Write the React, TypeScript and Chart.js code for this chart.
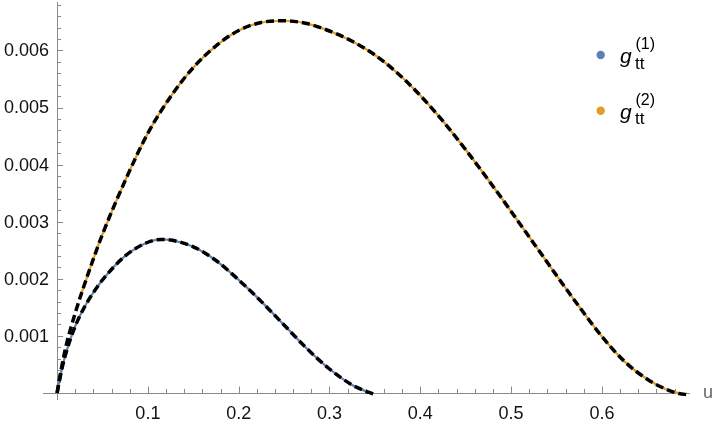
import React, { useEffect, useRef } from "react";
import { Chart, registerables } from "chart.js";

Chart.register(...registerables);

// ---- data (u, g) ----
const u1 = [0, 0.005, 0.01, 0.02, 0.03, 0.04, 0.05, 0.075, 0.1, 0.115, 0.125, 0.15, 0.175, 0.2, 0.225, 0.25, 0.275, 0.3, 0.325, 0.34, 0.345];
const g1 = [0, 0.0004, 0.00071, 0.00117, 0.0015, 0.00176, 0.00198, 0.0024, 0.00264, 0.00269, 0.00268, 0.00256, 0.00232, 0.00198, 0.0016, 0.00119, 0.00078, 0.00042, 0.00014, 0.00003, 0];

const u2 = [0.027, 0.04, 0.05, 0.075, 0.1, 0.125, 0.15, 0.175, 0.2, 0.225, 0.25, 0.275, 0.3, 0.325, 0.35, 0.375, 0.4, 0.425, 0.45, 0.475, 0.5, 0.525, 0.55, 0.575, 0.6, 0.625, 0.65, 0.67, 0.685];
const g2 = [0.00175, 0.00235, 0.00278, 0.00372, 0.00455, 0.00519, 0.0057, 0.00608, 0.00635, 0.00649, 0.00652, 0.00647, 0.00634, 0.00616, 0.00592, 0.0056, 0.00521, 0.00476, 0.00426, 0.00373, 0.00318, 0.00262, 0.00206, 0.00151, 0.00099, 0.00055, 0.00024, 0.00007, -0.00001];

const uFit1 = [0, 0.005, 0.01, 0.02, 0.03, 0.04, 0.05, 0.075, 0.1, 0.115, 0.125, 0.15, 0.175, 0.2, 0.225, 0.25, 0.275, 0.3, 0.325, 0.34, 0.347, 0.352];
const gFit1 = [0, 0.0004, 0.00071, 0.00117, 0.0015, 0.00176, 0.00198, 0.0024, 0.00264, 0.00269, 0.00268, 0.00256, 0.00232, 0.00198, 0.0016, 0.00119, 0.00078, 0.00042, 0.00014, 0.00003, -0.00001, -0.00004];

const uFit2 = [0, 0.005, 0.01, 0.02, 0.027, 0.04, 0.05, 0.075, 0.1, 0.125, 0.15, 0.175, 0.2, 0.225, 0.25, 0.275, 0.3, 0.325, 0.35, 0.375, 0.4, 0.425, 0.45, 0.475, 0.5, 0.525, 0.55, 0.575, 0.6, 0.625, 0.65, 0.67, 0.685, 0.695];
const gFit2 = [0, 0.00045, 0.00083, 0.0014, 0.00175, 0.00235, 0.00278, 0.00372, 0.00455, 0.00519, 0.0057, 0.00608, 0.00635, 0.00649, 0.00652, 0.00647, 0.00634, 0.00616, 0.00592, 0.0056, 0.00521, 0.00476, 0.00426, 0.00373, 0.00318, 0.00262, 0.00206, 0.00151, 0.00099, 0.00055, 0.00024, 0.00007, -0.00001, -0.00003];

const xTickValues = [0.1, 0.2, 0.3, 0.4, 0.5, 0.6];
const xTickLabels = ["0.1", "0.2", "0.3", "0.4", "0.5", "0.6"];
const yTickValues = [0.001, 0.002, 0.003, 0.004, 0.005, 0.006];
const yTickLabels = ["0.001", "0.002", "0.003", "0.004", "0.005", "0.006"];
const legendSupers = ["(1)", "(2)"];

const BLUE = "#5E81B5";
const ORANGE = "#E19C24";

const pts = (xs: number[], ys: number[]) => xs.map((x, i) => ({ x, y: ys[i] }));

const axesPlugin = {
  id: "mmaAxes",
  beforeDatasetsDraw(chart: any) {
    const { ctx } = chart;
    const xs = chart.scales.x;
    const ys = chart.scales.y;
    const x0 = xs.getPixelForValue(0);
    const y0 = ys.getPixelForValue(0);
    ctx.save();
    ctx.strokeStyle = "#8a8a8a";
    ctx.lineWidth = 1;
    ctx.beginPath();
    ctx.moveTo(xs.left, Math.round(y0) + 0.5);
    ctx.lineTo(xs.right, Math.round(y0) + 0.5);
    ctx.moveTo(Math.round(x0) + 0.5, ys.top);
    ctx.lineTo(Math.round(x0) + 0.5, ys.bottom);
    ctx.stroke();
    ctx.beginPath();
    for (let k = 1; k * 0.02 <= xs.max + 1e-9; k++) {
      const v = k * 0.02;
      const px = Math.round(xs.getPixelForValue(v)) + 0.5;
      const len = k % 5 === 0 ? 6.5 : 4;
      ctx.moveTo(px, y0);
      ctx.lineTo(px, y0 - len);
    }
    for (let k = 1; k * 0.0002 <= ys.max + 1e-12; k++) {
      const v = k * 0.0002;
      const py = Math.round(ys.getPixelForValue(v)) + 0.5;
      const len = k % 5 === 0 ? 6 : 4;
      ctx.moveTo(x0, py);
      ctx.lineTo(x0 + len, py);
    }
    ctx.stroke();
    ctx.fillStyle = "#111";
    ctx.font = "18px 'Liberation Sans', Arial, sans-serif";
    ctx.textAlign = "center";
    ctx.textBaseline = "alphabetic";
    xTickValues.forEach((v, i) => {
      ctx.fillText(xTickLabels[i], xs.getPixelForValue(v), y0 + 26);
    });
    ctx.textAlign = "right";
    ctx.textBaseline = "middle";
    yTickValues.forEach((v, i) => {
      ctx.fillText(yTickLabels[i], x0 - 8, ys.getPixelForValue(v) + 1);
    });
    ctx.fillStyle = "#666";
    ctx.textAlign = "left";
    ctx.textBaseline = "alphabetic";
    ctx.fillText("u", 703, y0 + 5);
    ctx.restore();
  },
};

const legendPlugin = {
  id: "mmaLegend",
  afterDraw(chart: any) {
    const { ctx } = chart;
    const colors = [BLUE, ORANGE];
    ctx.save();
    colors.forEach((c, i) => {
      const dy = i * 55.7;
      ctx.fillStyle = c;
      ctx.beginPath();
      ctx.arc(600.7, 55 + dy, 4.2, 0, Math.PI * 2);
      ctx.fill();
      ctx.fillStyle = "#000";
      ctx.textAlign = "left";
      ctx.textBaseline = "alphabetic";
      ctx.font = "italic 21px 'Liberation Sans', Arial, sans-serif";
      ctx.fillText("g", 620, 63 + dy);
      ctx.font = "17px 'Liberation Sans', Arial, sans-serif";
      ctx.fillText("tt", 635, 68.5 + dy);
      ctx.font = "16px 'Liberation Sans', Arial, sans-serif";
      ctx.fillText(legendSupers[i], 635.5, 49 + dy);
    });
    ctx.restore();
  },
};

export default function App() {
  const ref = useRef<HTMLCanvasElement>(null);
  useEffect(() => {
    if (!ref.current) return;
    const fitStyle = {
      borderColor: "#000",
      borderWidth: 3.5,
      borderDash: [8, 4],
      pointRadius: 0,
      cubicInterpolationMode: "monotone",
      order: 0,
    };
    const dataStyle = {
      borderWidth: 2.2,
      pointRadius: 0,
      cubicInterpolationMode: "monotone",
      order: 1,
    };
    const chart = new Chart(ref.current, {
      type: "line",
      data: {
        datasets: [
          { label: "fit1", data: pts(uFit1, gFit1), ...fitStyle },
          { label: "fit2", data: pts(uFit2, gFit2), ...fitStyle },
          { label: "g1", data: pts(u1, g1), borderColor: BLUE, ...dataStyle },
          { label: "g2", data: pts(u2, g2), borderColor: ORANGE, ...dataStyle },
        ],
      },
      options: {
        animation: false,
        responsive: false,
        layout: { padding: { left: 43, right: 30, top: 2, bottom: 26 } },
        scales: {
          x: { type: "linear", min: -0.0155, max: 0.697, display: false },
          y: { type: "linear", min: -0.000123, max: 0.006848, display: false },
        },
        plugins: { legend: { display: false }, tooltip: { enabled: false } },
      },
      plugins: [axesPlugin, legendPlugin],
    } as any);
    return () => chart.destroy();
  }, []);
  return (
    <div style={{ position: "absolute", left: 0, top: 0, width: 720, height: 426, background: "#fff" }}>
      <canvas ref={ref} width={720} height={426} style={{ display: "block" }} />
    </div>
  );
}
